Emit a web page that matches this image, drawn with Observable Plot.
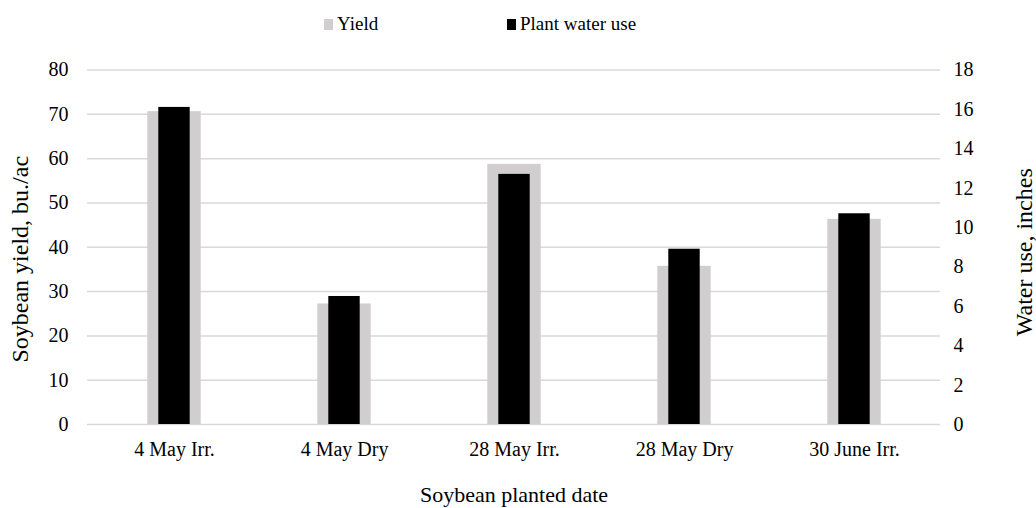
<!DOCTYPE html>
<html>
<head>
<meta charset="utf-8">
<script src="https://cdn.jsdelivr.net/npm/d3@7"></script>
<script src="https://cdn.jsdelivr.net/npm/@observablehq/plot@0.6"></script>
<style>
  html, body { margin: 0; padding: 0; background: #fff; }
  #chart { width: 1036px; font-family: 'Liberation Serif', serif; color: #000; }
  .legend { height: 48px; position: relative; font-size: 19px; font-family: 'Liberation Serif', serif; }
  .legend .item { position: absolute; top: 0; height: 48px; display: flex; align-items: center; font-family: 'Liberation Serif', serif; }
  .legend .sw { width: 9px; height: 11px; margin-right: 4px; }
</style>
</head>
<body>
<div id="chart"></div>
<script>
// ---- data ----
const categories = ["4 May Irr.", "4 May Dry", "28 May Irr.", "28 May Dry", "30 June Irr."];
const yieldValues = [70.6, 27.2, 58.7, 35.7, 46.3];      // bu./ac (left axis)
const waterUseValues = [16.1, 6.5, 12.7, 8.9, 10.7];     // inches (right axis)
const yieldTicks = [0, 10, 20, 30, 40, 50, 60, 70, 80];
const waterTicks = [0, 2, 4, 6, 8, 10, 12, 14, 16, 18];
const seriesNames = ["Yield", "Plant water use"];
const seriesColors = ["#d0cece", "#000000"];

// ---- build ----
const yieldMax = 80, waterMax = 18;
const k = yieldMax / waterMax; // map water to left scale
const rows = categories.map((c, i) => ({cat: c, yield: yieldValues[i], water: waterUseValues[i]}));

const root = document.getElementById("chart");

// legend (HTML, above the SVG)
const legend = document.createElement("div");
legend.className = "legend";
const legendX = [324, 507];
seriesNames.forEach((name, i) => {
  const it = document.createElement("div");
  it.className = "item";
  it.style.left = legendX[i] + "px";
  const sw = document.createElement("span");
  sw.className = "sw";
  sw.style.background = seriesColors[i];
  const tx = document.createElement("span");
  tx.style.fontFamily = "'Liberation Serif', serif";
  tx.textContent = name;
  it.appendChild(sw); it.appendChild(tx);
  legend.appendChild(it);
});
root.appendChild(legend);

const plot = Plot.plot({
  width: 1036,
  height: 460,
  marginTop: 21.5,
  marginBottom: 84,
  marginLeft: 87,
  marginRight: 96,
  style: {fontFamily: "'Liberation Serif', serif", fontSize: "20px", color: "#000", background: "#fff"},
  x: {type: "band", domain: categories, padding: 0},
  y: {domain: [0, yieldMax]},
  marks: [
    Plot.gridY(yieldTicks, {stroke: "#d9d9d9", strokeOpacity: 1, strokeWidth: 1.5}),
    Plot.barY(rows, {x: "cat", y: "yield", fill: seriesColors[0], insetLeft: 58.3, insetRight: 58.3}),
    Plot.barY(rows, {x: "cat", y: d => d.water * k, fill: seriesColors[1], insetLeft: 69.3, insetRight: 69.3}),
    Plot.axisY(yieldTicks, {anchor: "left", tickSize: 0, tickPadding: 19, label: null}),
    Plot.axisY(waterTicks.map(v => v * k), {anchor: "right", tickSize: 0, tickPadding: 13, label: null,
      tickFormat: d => String(Math.round(d / k))}),
    Plot.axisX({tickSize: 0, tickPadding: 17, label: null}),
    Plot.text(["Soybean planted date"], {frameAnchor: "bottom", dy: 70, textAnchor: "middle", lineAnchor: "middle", fontSize: 22}),
    Plot.text(["Soybean yield, bu./ac"], {frameAnchor: "left", dx: -67, dy: 12, rotate: -90, textAnchor: "middle", lineAnchor: "middle", fontSize: 24}),
    Plot.text(["Water use, inches"], {frameAnchor: "right", dx: 84, dy: 5, rotate: -90, textAnchor: "middle", lineAnchor: "middle", fontSize: 24})
  ]
});
root.appendChild(plot);
</script>
</body>
</html>
